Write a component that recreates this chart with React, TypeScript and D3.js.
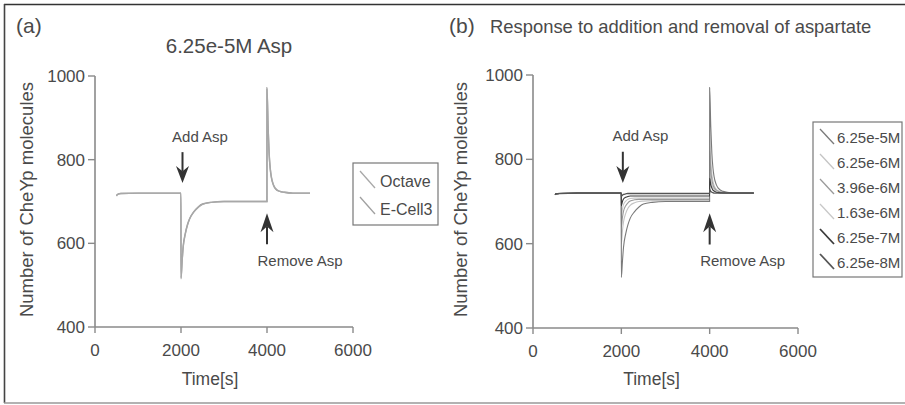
import React from "react";
import * as d3 from "d3";

// ---------- data ----------
const times = [500, 520, 600, 1000, 1500, 1999, 2000, 2025, 2050, 2100, 2150, 2200, 2300, 2400, 2500, 2700, 3000, 3500, 3999, 4000, 4025, 4050, 4075, 4100, 4150, 4200, 4300, 4400, 4600, 5000];

const octave = [713, 716, 719, 720, 720, 720, 515, 555, 590, 622, 643, 658, 675, 686, 693, 698, 700, 700, 700, 972, 880, 815, 780, 760, 740, 731, 724, 722, 720, 720];
const ecell3 = [714, 717, 719, 720, 720, 720, 518, 557, 592, 624, 645, 659, 676, 687, 694, 698, 700, 700, 700, 968, 876, 812, 778, 758, 739, 730, 724, 722, 720, 720];

const s625e5 = [716, 718, 719, 720, 720, 720, 520, 558, 592, 624, 645, 660, 676, 687, 694, 698, 700, 700, 700, 970, 878, 814, 779, 759, 740, 731, 724, 722, 720, 720];
const s625e6 = [716, 718, 719, 720, 720, 720, 600, 630, 652, 672, 684, 691, 697, 700, 701, 702, 702, 702, 702, 870, 800, 765, 748, 738, 729, 725, 722, 721, 720, 720];
const s396e6 = [716, 718, 719, 720, 720, 720, 640, 662, 677, 690, 697, 701, 704, 705, 705, 705, 705, 705, 705, 820, 775, 752, 740, 733, 727, 724, 721, 720, 720, 720];
const s163e6 = [716, 718, 719, 720, 720, 720, 665, 682, 693, 701, 705, 707, 708, 708, 708, 708, 708, 708, 708, 785, 755, 740, 733, 729, 725, 722, 721, 720, 720, 720];
const s625e7 = [716, 718, 719, 720, 720, 720, 690, 700, 706, 710, 712, 713, 713, 713, 713, 713, 713, 713, 713, 755, 740, 732, 727, 725, 722, 721, 720, 720, 720, 720];
const s625e8 = [716, 718, 719, 720, 720, 720, 712, 715, 717, 718, 719, 719, 719, 719, 719, 719, 719, 719, 719, 728, 724, 722, 721, 720, 720, 720, 720, 720, 720, 720];

const legendA = ["Octave", "E-Cell3"];
const legendB = ["6.25e-5M", "6.25e-6M", "3.96e-6M", "1.63e-6M", "6.25e-7M", "6.25e-8M"];
const xTicks = [0, 2000, 4000, 6000];
const yTicks = [400, 600, 800, 1000];

const seriesA = [octave, ecell3];
const seriesB = [s625e5, s625e6, s396e6, s163e6, s625e7, s625e8];
const colorsA = ["#a8a8a8", "#a0a0a0"];
const colorsB = ["#7a7a7a", "#c4c4c4", "#9a9a9a", "#c8c8c8", "#3a3a3a", "#555"];
const orderB = [1, 3, 2, 0, 4, 5];

const FONT = "'Liberation Sans', Arial, Helvetica, sans-serif";
const TXT = "#4a4a4a";
const AX = "#8a8a8a";

type PanelProps = {
  xr: [number, number];
  yr: [number, number];
  series: number[][];
  colors: string[];
  order: number[];
  widths: number[];
  ylabelX: number;
};

function Arrow({ x, tipY, baseY, headLen, dir }: { x: number; tipY: number; baseY: number; headLen: number; dir: 1 | -1 }) {
  const hw = 6.5;
  const back = tipY - dir * headLen;
  const notch = tipY - dir * (headLen * 0.7);
  return (
    <g>
      <line x1={x} x2={x} y1={baseY} y2={notch} stroke="#333" strokeWidth={2} />
      <path d={`M${x},${tipY} L${x - hw},${back} L${x},${notch} L${x + hw},${back} Z`} fill="#333" />
    </g>
  );
}

function Panel({ xr, yr, series, colors, order, widths, ylabelX }: PanelProps) {
  const x = d3.scaleLinear().domain([0, 6000]).range(xr);
  const y = d3.scaleLinear().domain([400, 1000]).range(yr);
  const line = d3
    .line<number>()
    .x((_, i) => x(times[i]))
    .y((d) => y(d))
    .curve(d3.curveMonotoneX);
  const yMid = (y(400) + y(1000)) / 2;
  return (
    <g>
      <line x1={x(0)} x2={x(6000)} y1={y(400)} y2={y(400)} stroke={AX} strokeWidth={1.6} />
      <line x1={x(0)} x2={x(0)} y1={y(400)} y2={y(1000)} stroke={AX} strokeWidth={1.6} />
      {xTicks.map((t) => (
        <g key={"x" + t}>
          <line x1={x(t)} x2={x(t)} y1={y(400)} y2={y(400) + 6} stroke={AX} strokeWidth={1.4} />
          <text x={x(t)} y={y(400) + 29} textAnchor="middle" fontSize={17} fill={TXT} fontFamily={FONT}>
            {t}
          </text>
        </g>
      ))}
      {yTicks.map((t) => (
        <g key={"y" + t}>
          <line x1={x(0) - 7} x2={x(0)} y1={y(t)} y2={y(t)} stroke={AX} strokeWidth={1.4} />
          <text x={x(0) - 10} y={y(t) + 6} textAnchor="end" fontSize={17} fill={TXT} fontFamily={FONT}>
            {t}
          </text>
        </g>
      ))}
      <text x={x(3000) - 14} y={385} textAnchor="middle" fontSize={17.5} fill={TXT} fontFamily={FONT}>
        Time[s]
      </text>
      <text
        transform={`translate(${ylabelX},${yMid - 2}) rotate(-90)`}
        textAnchor="middle"
        fontSize={18.5}
        fill={TXT}
        fontFamily={FONT}
      >
        Number of CheYp molecules
      </text>
      {order.map((i) => (
        <path key={i} d={line(series[i]) || ""} fill="none" stroke={colors[i]} strokeWidth={widths[i]} />
      ))}
      <text x={x(2000) + 19} y={y(843)} textAnchor="middle" fontSize={15} fill={TXT} fontFamily={FONT}>
        Add Asp
      </text>
      <Arrow x={x(2000) + 1.5} tipY={y(744)} baseY={y(818)} headLen={17} dir={1} />
      <Arrow x={x(4000)} tipY={y(672)} baseY={y(598)} headLen={19} dir={-1} />
      <text x={x(4000) + 33} y={y(546)} textAnchor="middle" fontSize={15} fill={TXT} fontFamily={FONT}>
        Remove Asp
      </text>
    </g>
  );
}

export default function App() {
  return (
    <svg width={905} height={405} style={{ display: "block", position: "absolute", left: 0, top: 0, background: "#fff" }}>
      <rect x={0} y={0} width={905} height={405} fill="#fff" />
      <line x1={4} x2={905} y1={4.5} y2={4.5} stroke="#333" strokeWidth={1.6} />
      <line x1={4.5} x2={4.5} y1={4} y2={403} stroke="#444" strokeWidth={1.6} />
      <line x1={4} x2={905} y1={403} y2={403} stroke="#999" strokeWidth={1.5} />

      <text x={16} y={33} fontSize={21} fill={TXT} fontFamily={FONT}>(a)</text>
      <text x={229} y={53} textAnchor="middle" fontSize={20.5} fill={TXT} fontFamily={FONT}>6.25e-5M Asp</text>
      <Panel xr={[95, 353]} yr={[327, 76]} series={seriesA} colors={colorsA} order={[1, 0]} widths={[1.4, 1.4]} ylabelX={33} />
      <rect x={353} y={163} width={85} height={62} fill="none" stroke="#777" strokeWidth={1.2} />
      {legendA.map((name, i) => (
        <g key={name}>
          <line x1={360} y1={171 + i * 26} x2={375} y2={188 + i * 26} stroke={colorsA[i]} strokeWidth={1.3} />
          <text x={380} y={187 + i * 28} fontSize={16} fill={TXT} fontFamily={FONT}>{name}</text>
        </g>
      ))}

      <text x={449} y={33} fontSize={21} fill={TXT} fontFamily={FONT}>(b)</text>
      <text x={490} y={33} fontSize={18.4} fill={TXT} fontFamily={FONT}>Response to addition and removal of aspartate</text>
      <Panel xr={[533, 798]} yr={[328, 75]} series={seriesB} colors={colorsB} order={orderB} widths={[1.1, 1.1, 1.1, 1.1, 1.1, 1.3]} ylabelX={467} />
      <rect x={813} y={122} width={89} height={155} fill="none" stroke="#777" strokeWidth={1.2} />
      {legendB.map((name, i) => (
        <g key={name}>
          <line x1={820} y1={129 + i * 25} x2={834} y2={144 + i * 25} stroke={colorsB[i]} strokeWidth={i >= 4 ? 1.8 : 1.3} />
          <text x={837} y={142.5 + i * 25} fontSize={15} fill={TXT} fontFamily={FONT}>{name}</text>
        </g>
      ))}
    </svg>
  );
}
